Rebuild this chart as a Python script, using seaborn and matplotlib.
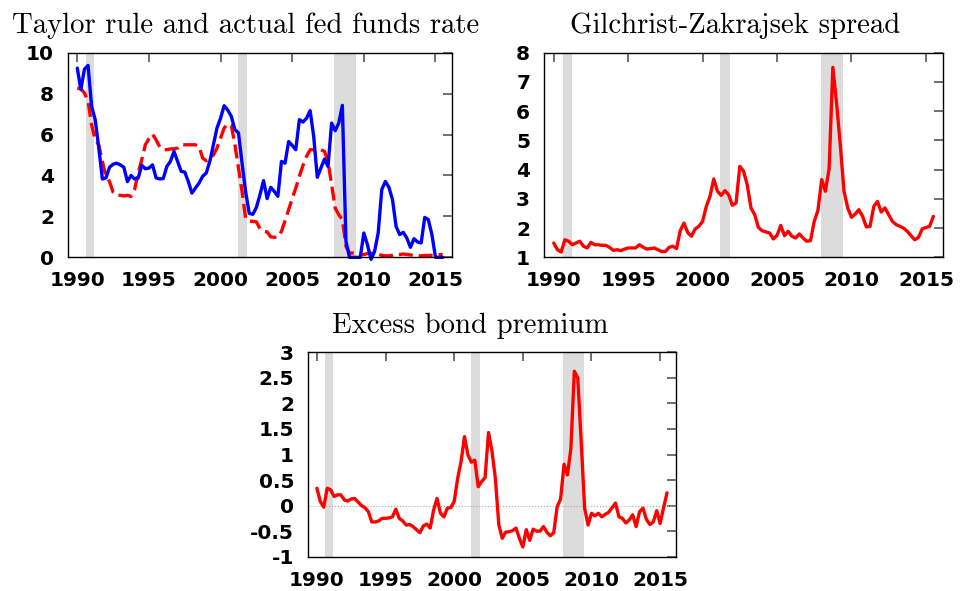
import numpy as np
import pandas as pd
import matplotlib
matplotlib.use("Agg")
import matplotlib.pyplot as plt
import seaborn as sns

# quarterly sample 1990Q1 - 2015Q3
quarters = pd.period_range("1990Q1", "2015Q3", freq="Q")
years = np.array([q.year + (q.quarter - 1) / 4 for q in quarters])

taylor_rule = [9.25, 8.2, 9.2, 9.38, 7.38, 6.73, 5.35, 3.83, 3.88, 4.4,
               4.55, 4.6, 4.52, 4.4, 3.7, 4.0, 3.83, 3.88, 4.5, 4.33,
               4.36, 4.52, 3.88, 3.83, 3.85, 4.44, 4.69, 5.18, 4.69, 4.2,
               4.17, 3.7, 3.14, 3.39, 3.63, 3.96, 4.12, 4.69, 5.5, 6.32,
               6.8, 7.41, 7.2, 6.89, 6.24, 6.08, 4.6, 3.2, 2.15, 2.1,
               2.44, 3.06, 3.75, 2.87, 3.42, 3.22, 2.98, 4.69, 4.6, 5.66,
               5.47, 5.26, 6.73, 6.61, 6.8, 7.17, 5.91, 3.91, 4.36, 4.8,
               4.44, 6.56, 6.19, 6.56, 7.43, 0.78, 0.0, 0.0, 0.0, 0.0,
               1.19, 0.62, -0.1, 0.29, 1.19, 3.31, 3.71, 3.42, 2.82, 1.51,
               1.11, 1.22, 0.94, 0.49, 0.91, 0.75, 0.7, 1.95, 1.84, 1.11,
               0.0, 0.0, 0.0]

fed_funds = [8.27, 8.24, 8.03, 7.62, 6.48, 5.74, 5.5, 4.69, 3.96, 3.7,
             3.18, 3.03, 3.03, 3.0, 3.03, 2.98, 3.31, 4.12, 4.77, 5.5,
             5.8, 6.02, 5.74, 5.4, 5.26, 5.26, 5.3, 5.3, 5.34, 5.5,
             5.5, 5.5, 5.5, 5.5, 5.42, 4.85, 4.72, 4.85, 5.0, 5.34,
             5.83, 6.32, 6.52, 6.45, 5.5, 4.36, 3.22, 1.9, 1.76, 1.76,
             1.73, 1.4, 1.27, 1.24, 1.0, 0.98, 0.98, 1.27, 1.79, 2.33,
             2.87, 3.39, 3.96, 4.49, 4.93, 5.26, 5.26, 5.26, 5.26, 5.18,
             4.69, 3.55, 2.41, 2.08, 1.84, 0.54, 0.21, 0.21, 0.18, 0.15,
             0.13, 0.19, 0.19, 0.19, 0.16, 0.09, 0.08, 0.07, 0.1, 0.15,
             0.14, 0.16, 0.14, 0.12, 0.08, 0.09, 0.07, 0.09, 0.09, 0.1,
             0.11, 0.13, 0.14]

gz_spread = [1.49, 1.26, 1.18, 1.6, 1.55, 1.43, 1.49, 1.55, 1.38, 1.32,
             1.51, 1.43, 1.43, 1.41, 1.41, 1.34, 1.24, 1.26, 1.23, 1.28,
             1.32, 1.32, 1.32, 1.43, 1.35, 1.28, 1.3, 1.32, 1.26, 1.2,
             1.2, 1.34, 1.38, 1.3, 1.91, 2.17, 1.85, 1.72, 1.97, 2.06,
             2.23, 2.74, 3.09, 3.68, 3.26, 3.12, 3.28, 3.14, 2.78, 2.86,
             4.11, 3.95, 3.48, 2.69, 2.46, 2.02, 1.91, 1.87, 1.83, 1.63,
             1.75, 2.09, 1.74, 1.89, 1.72, 1.66, 1.8, 1.66, 1.55, 1.57,
             2.23, 2.61, 3.66, 3.26, 4.03, 7.5, 6.28, 4.85, 3.26, 2.69,
             2.37, 2.48, 2.63, 2.4, 2.04, 2.06, 2.74, 2.91, 2.55, 2.69,
             2.46, 2.23, 2.12, 2.06, 2.0, 1.89, 1.74, 1.6, 1.68, 1.97,
             2.02, 2.06, 2.4]

ebp = [0.34, 0.08, -0.03, 0.34, 0.31, 0.18, 0.21, 0.21, 0.11, 0.09,
       0.13, 0.14, 0.07, 0.0, -0.04, -0.12, -0.32, -0.32, -0.3, -0.25,
       -0.25, -0.24, -0.22, -0.07, -0.25, -0.3, -0.38, -0.37, -0.41, -0.47,
       -0.53, -0.4, -0.36, -0.44, -0.09, 0.14, -0.15, -0.22, -0.05, -0.04,
       0.08, 0.53, 0.86, 1.35, 0.99, 0.85, 0.89, 0.37, 0.47, 0.55,
       1.43, 1.07, 0.53, -0.38, -0.64, -0.52, -0.51, -0.49, -0.44, -0.64,
       -0.81, -0.47, -0.68, -0.46, -0.5, -0.5, -0.41, -0.52, -0.59, -0.53,
       -0.02, 0.13, 0.81, 0.6, 1.12, 2.63, 2.5, 1.25, -0.05, -0.38,
       -0.15, -0.2, -0.15, -0.22, -0.17, -0.13, -0.04, 0.05, -0.22, -0.25,
       -0.34, -0.28, -0.18, -0.41, -0.12, -0.05, -0.27, -0.37, -0.32, -0.1,
       -0.35, -0.04, 0.25]

recessions = [(1990.6, 1991.2), (2001.2, 2001.85), (2007.95, 2009.45)]
year_ticks = [1990, 1995, 2000, 2005, 2010, 2015]

sns.set_theme(style="white")
plt.rcParams["axes.unicode_minus"] = False
plt.rcParams["font.family"] = ["DejaVu Sans"]

fig = plt.figure(figsize=(9.6, 5.91), dpi=100)
ax1 = fig.add_axes([0.0708, 0.5646, 0.400, 0.3462])
ax2 = fig.add_axes([0.5667, 0.5646, 0.4156, 0.3462])
ax3 = fig.add_axes([0.3208, 0.0580, 0.3833, 0.3459])


def style_axis(ax, title, title_x, yticks, ylabels, ylim):
    for a, b in recessions:
        ax.axvspan(a, b, color="#dcdcdc", lw=0, zorder=0)
    ax.set_xlim(1989.35, 2016.15)
    ax.set_ylim(*ylim)
    ax.set_xticks(year_ticks)
    ax.set_xticklabels([str(y) for y in year_ticks])
    ax.set_yticks(yticks)
    ax.set_yticklabels(ylabels)
    ax.tick_params(direction="in", top=True, right=True, length=6.5,
                   width=1.2, color="#555555", labelsize=14.5, pad=10,
                   labelcolor="black")
    for lab in ax.get_xticklabels() + ax.get_yticklabels():
        lab.set_fontweight("bold")
    for s in ax.spines.values():
        s.set_color("black")
        s.set_linewidth(1.0)
    ax.set_xlabel("")
    ax.set_ylabel("")
    ax.set_title(title, x=title_x, fontsize=20.7, pad=14, family="cmr10",
                 color="black")


# Taylor rule vs fed funds
sns.lineplot(x=years, y=fed_funds, ax=ax1, color="#ff0000", lw=2.4)
ax1.lines[-1].set_dashes((4.2, 1.8))
sns.lineplot(x=years, y=taylor_rule, ax=ax1, color="#0000ff", lw=2.4, clip_on=False)
style_axis(ax1, "Taylor rule and actual fed funds rate", 0.4635,
           [0, 2, 4, 6, 8, 10], ["0", "2", "4", "6", "8", "10"], (0, 10))

# GZ spread
sns.lineplot(x=years, y=gz_spread, ax=ax2, color="#ff0000", lw=2.4)
style_axis(ax2, "Gilchrist-Zakrajsek spread", 0.479,
           [1, 2, 3, 4, 5, 6, 7, 8], ["1", "2", "3", "4", "5", "6", "7", "8"], (1, 8))

# Excess bond premium
ax3.axhline(0, color="#aaaaaa", lw=0.8, ls=":", zorder=1)
sns.lineplot(x=years, y=ebp, ax=ax3, color="#ff0000", lw=2.4)
style_axis(ax3, "Excess bond premium", 0.4416,
           [-1, -0.5, 0, 0.5, 1, 1.5, 2, 2.5, 3],
           ["-1", "-0.5", "0", "0.5", "1", "1.5", "2", "2.5", "3"], (-1, 3))

fig.savefig("out.png", dpi=100)
